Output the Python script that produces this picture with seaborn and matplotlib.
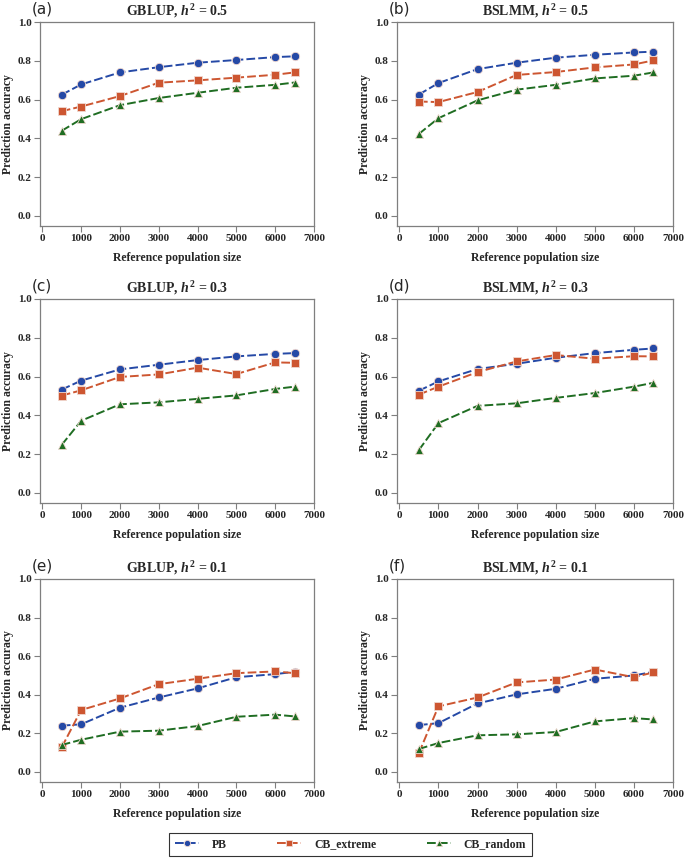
import numpy as np
import pandas as pd
import matplotlib
matplotlib.use("Agg")
import matplotlib.pyplot as plt
import seaborn as sns

sizes = [500, 1000, 2000, 3000, 4000, 5000, 6000, 6500]
methods = ["PB", "CB_extreme", "CB_random"]

# (a) GBLUP h2=0.5
a_pb = [0.625, 0.678, 0.740, 0.767, 0.790, 0.804, 0.819, 0.823]
a_ext = [0.540, 0.564, 0.618, 0.687, 0.699, 0.713, 0.728, 0.740]
a_rand = [0.439, 0.499, 0.571, 0.608, 0.635, 0.661, 0.676, 0.688]
# (b) BSLMM h2=0.5
b_pb = [0.626, 0.685, 0.757, 0.790, 0.816, 0.831, 0.843, 0.847]
b_ext = [0.590, 0.587, 0.639, 0.727, 0.742, 0.766, 0.781, 0.802]
b_rand = [0.423, 0.504, 0.596, 0.651, 0.676, 0.709, 0.723, 0.740]
# (c) GBLUP h2=0.3
c_pb = [0.533, 0.579, 0.637, 0.661, 0.685, 0.704, 0.717, 0.721]
c_ext = [0.502, 0.529, 0.598, 0.611, 0.646, 0.613, 0.673, 0.671]
c_rand = [0.248, 0.372, 0.457, 0.467, 0.485, 0.503, 0.536, 0.548]
# (d) BSLMM h2=0.3
d_pb = [0.527, 0.575, 0.639, 0.666, 0.697, 0.721, 0.738, 0.745]
d_ext = [0.507, 0.548, 0.623, 0.678, 0.711, 0.692, 0.705, 0.704]
d_rand = [0.221, 0.360, 0.449, 0.462, 0.490, 0.515, 0.548, 0.568]
# (e) GBLUP h2=0.1
e_pb = [0.240, 0.247, 0.333, 0.386, 0.433, 0.491, 0.507, 0.519]
e_ext = [0.128, 0.321, 0.381, 0.455, 0.483, 0.512, 0.521, 0.512]
e_rand = [0.140, 0.167, 0.209, 0.214, 0.238, 0.286, 0.297, 0.288]
# (f) BSLMM h2=0.1
f_pb = [0.243, 0.253, 0.355, 0.402, 0.431, 0.483, 0.500, 0.519]
f_ext = [0.098, 0.340, 0.386, 0.464, 0.479, 0.531, 0.491, 0.516]
f_rand = [0.119, 0.150, 0.190, 0.195, 0.207, 0.262, 0.279, 0.272]

panel_letters = ["(a)", "(b)", "(c)", "(d)", "(e)", "(f)"]
panel_models = ["GBLUP", "BSLMM", "GBLUP", "BSLMM", "GBLUP", "BSLMM"]
panel_h2 = ["0.5", "0.5", "0.3", "0.3", "0.1", "0.1"]
panel_data = [
    (a_pb, a_ext, a_rand), (b_pb, b_ext, b_rand),
    (c_pb, c_ext, c_rand), (d_pb, d_ext, d_rand),
    (e_pb, e_ext, e_rand), (f_pb, f_ext, f_rand),
]
x_ticks = [0, 1000, 2000, 3000, 4000, 5000, 6000, 7000]
y_ticks = [0.0, 0.2, 0.4, 0.6, 0.8, 1.0]

sns.set_theme(style="white")
plt.rcParams["font.family"] = ["Liberation Serif", "DejaVu Serif"]
plt.rcParams["mathtext.fontset"] = "custom"
plt.rcParams["mathtext.rm"] = "Liberation Serif:bold"
plt.rcParams["mathtext.it"] = "Liberation Serif:italic:bold"
plt.rcParams["mathtext.bf"] = "Liberation Serif:bold"

palette = {"PB": "#2549a6", "CB_extreme": "#cd5631", "CB_random": "#1f6d22"}
markers = {"PB": "o", "CB_extreme": "s", "CB_random": "^"}
dashes = {"PB": (4.5, 1.6), "CB_extreme": (4.5, 1.6), "CB_random": (4.5, 1.6)}

fig = plt.figure(figsize=(6.85, 8.59), dpi=100)
W, H = 685.0, 859.0
cols = [(40, 314), (397, 673)]
rows = [(22, 226), (299, 503), (579, 782)]

spine_col = "#7f7f7f"
for i in range(6):
    r, c = divmod(i, 2)
    x0, x1 = cols[c]
    y0, y1 = rows[r]
    ax = fig.add_axes([x0 / W, 1 - y1 / H, (x1 - x0) / W, (y1 - y0) / H])
    pb, ext, rnd = panel_data[i]
    df = pd.DataFrame({
        "size": sizes * 3,
        "acc": pb + ext + rnd,
        "method": ["PB"] * len(sizes) + ["CB_extreme"] * len(sizes) + ["CB_random"] * len(sizes),
    })
    sns.lineplot(data=df, x="size", y="acc", hue="method", style="method",
                 hue_order=methods, style_order=methods,
                 palette=palette, markers=markers, dashes=dashes,
                 linewidth=1.4, markersize=6, markeredgewidth=0.6,
                 markeredgecolor="#f0d8d0", ax=ax, legend=False)
    ax.set_xlim(-60, 7000)
    ax.set_ylim(-0.052, 1.0)
    ax.set_xticks(x_ticks)
    ax.set_yticks(y_ticks)
    ax.set_xticklabels([str(t) for t in x_ticks], fontsize=8, fontweight="bold")
    ax.set_yticklabels([f"{t:.1f}" for t in y_ticks], fontsize=8, fontweight="bold")
    ax.tick_params(axis="both", which="both", direction="out", length=4, width=0.8,
                   color=spine_col, pad=2, bottom=True, left=True)
    for s in ax.spines.values():
        s.set_color(spine_col)
        s.set_linewidth(0.9)
    ax.set_xlabel("Reference population size", fontsize=8.5, fontweight="bold", labelpad=6)
    ax.set_ylabel("Prediction accuracy", fontsize=8.5, fontweight="bold", labelpad=3)
    ax.set_title(panel_models[i] + r", $h^2$ = " + panel_h2[i], fontsize=10,
                 fontweight="bold", pad=5)
    ax.text(-0.03, 1.025, panel_letters[i], transform=ax.transAxes, fontsize=11,
            family=["DejaVu Sans"], ha="left", va="bottom")
    if i == 0:
        handles = ax.get_lines()[:3]

leg = fig.legend(handles, methods, loc="center", bbox_to_anchor=(350.5 / W, 1 - 844.5 / H),
                 ncol=3, frameon=True, fancybox=False, edgecolor="black",
                 prop={"family": "Liberation Serif", "weight": "bold", "size": 8.5},
                 handlelength=2.0, handletextpad=1.1, columnspacing=4.3,
                 borderpad=0.5, borderaxespad=0, markerscale=0.75)
leg.get_frame().set_linewidth(0.8)

fig.savefig("out.png", dpi=100, facecolor="white")
